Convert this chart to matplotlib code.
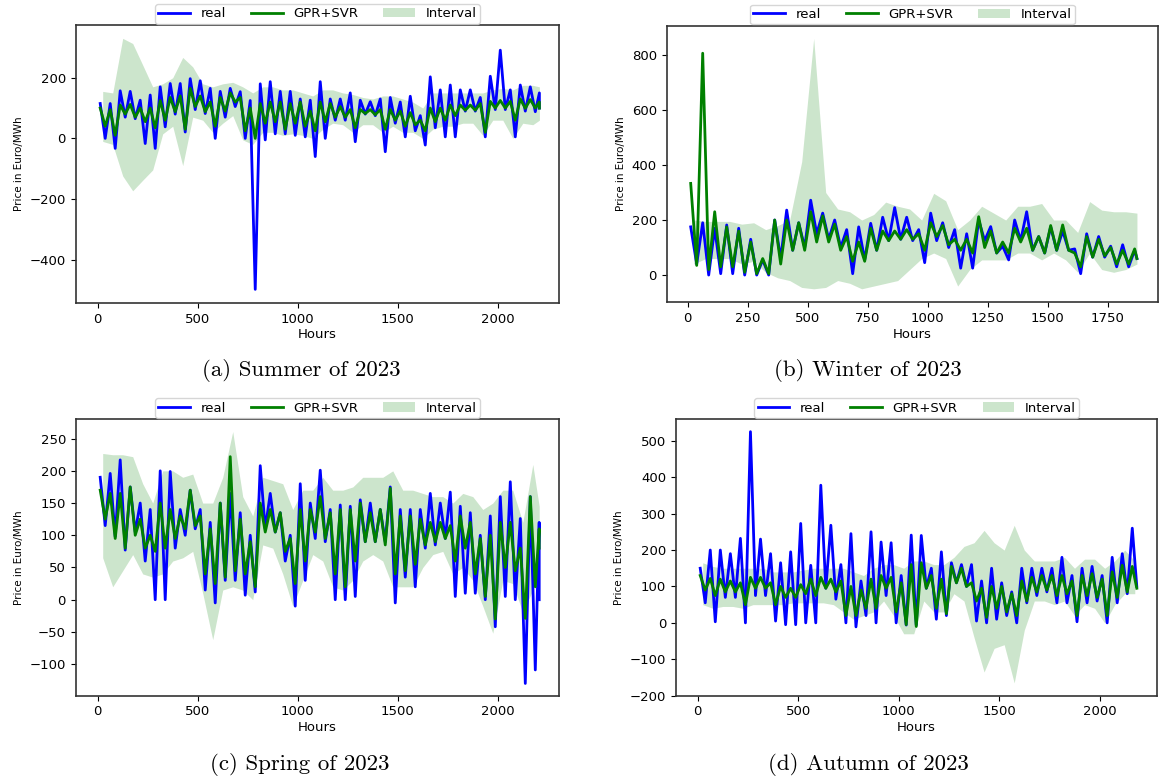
import matplotlib
matplotlib.use("Agg")
import matplotlib.pyplot as plt
import numpy as np

# values read per 50-hour block: upper / lower extremes of each series
summer_hours = 2208
summer_real_hi = [115, 115, 157, 155, 126, 143, 170, 181, 181, 197, 190, 165, 155, 165, 154, 125,
                  180, 187, 155, 155, 130, 126, 187, 130, 130, 150, 126, 121, 130, 135, 120, 139,
                  75, 203, 160, 176, 160, 160, 135, 205, 291, 160, 176, 170, 150]
summer_real_lo = [0, -33, 70, 65, -17, -33, 38, 80, 21, 95, 82, 0, 70, 105, 0, -498,
                  -5, 15, 15, 10, 5, -60, 0, 60, 60, -11, 80, 75, -44, 50, 5, 25,
                  -22, 35, 5, 5, 90, 90, 5, 95, 95, 5, 90, 88, 100]
summer_pred_hi = [100, 95, 110, 112, 100, 100, 125, 135, 140, 165, 140, 120, 135, 150, 135, 100,
                  115, 120, 120, 115, 120, 90, 120, 115, 105, 95, 95, 95, 95, 95, 90, 85,
                  60, 100, 100, 110, 110, 110, 115, 122, 125, 122, 130, 128, 120]
summer_pred_lo = [40, 10, 80, 70, 55, 35, 60, 88, 30, 105, 88, 40, 90, 120, 25, 0,
                  50, 55, 30, 50, 40, 25, 55, 70, 70, 35, 82, 78, 30, 60, 40, 45,
                  25, 55, 60, 75, 93, 93, 20, 100, 100, 60, 99, 100, 100]
summer_int_hi = [155, 150, 330, 313, 242, 170, 180, 200, 267, 236, 180, 170, 180, 185, 170, 150,
                 170, 170, 160, 160, 150, 140, 160, 160, 150, 145, 135, 130, 140, 140, 130, 120,
                 100, 150, 150, 150, 150, 150, 150, 160, 165, 160, 175, 175, 170]
summer_int_lo = [-10, -20, -124, -173, -138, -104, 15, 40, -90, 70, 60, 20, 50, 75, -5, -20,
                 20, 20, 10, 15, 10, 0, 30, 50, 45, 20, 45, 45, 20, 40, 20, 20,
                 0, 30, 40, 40, 50, 50, 10, 60, 60, 0, 50, 45, 60]

winter_hours = 1872
winter_real_hi = [175, 190, 170, 182, 170, 130, 55, 200, 236, 190, 272, 225, 200, 165, 175, 188,
                  210, 245, 210, 165, 225, 190, 165, 150, 200, 176, 105, 200, 230, 140, 175, 160,
                  95, 150, 140, 105, 110, 90]
winter_real_lo = [40, 0, 5, 5, 0, 0, 0, 60, 90, 100, 150, 130, 100, 5, 55, 90,
                  125, 130, 125, 45, 125, 100, 25, 25, 125, 80, 55, 125, 90, 80, 90, 90,
                  5, 65, 65, 30, 30, 60]
winter_pred_hi = [333, 806, 230, 175, 160, 120, 60, 200, 200, 190, 230, 215, 185, 140, 120, 170,
                  160, 160, 165, 150, 190, 180, 130, 130, 212, 160, 120, 170, 170, 140, 180, 182,
                  80, 140, 130, 100, 90, 95]
winter_pred_lo = [35, 20, 30, 30, 10, 5, 5, 40, 90, 90, 120, 120, 90, 50, 50, 90,
                  125, 130, 130, 90, 140, 110, 90, 80, 100, 80, 80, 120, 90, 80, 90, 90,
                  30, 65, 70, 40, 40, 60]
winter_int_hi = [200, 195, 195, 195, 185, 190, 165, 180, 200, 412, 860, 300, 240, 230, 200, 220,
                 265, 250, 240, 200, 297, 270, 165, 200, 250, 225, 200, 250, 250, 260, 200, 200,
                 155, 267, 236, 230, 230, 225]
winter_int_lo = [40, 60, 60, 60, 40, 50, 10, -10, -20, -45, -50, -45, -20, -30, -50, -40,
                 -30, -20, 20, 60, 80, 60, -40, 20, 55, 55, 55, 80, 80, 55, 80, 55,
                 10, 80, 20, 10, 20, 40]

spring_hours = 2207
spring_real_hi = [190, 196, 217, 175, 150, 140, 200, 199, 140, 170, 140, 120, 150, 165, 135, 100,
                  208, 165, 135, 100, 180, 150, 201, 140, 147, 145, 155, 150, 140, 175, 140, 140,
                  140, 165, 150, 167, 145, 135, 100, 130, 160, 183, 126, 160, 120]
spring_real_lo = [115, 98, 77, 105, 60, 0, 0, 80, 100, 110, 15, -5, 30, 30, 7, 12,
                  110, 105, 60, -10, 30, 95, 90, 0, 0, 5, 90, 90, 90, -5, 35, 20,
                  80, 85, 95, 5, 10, 10, 0, -42, 5, 0, -130, -109, 0]
spring_pred_hi = [170, 165, 165, 175, 125, 100, 150, 140, 130, 170, 130, 110, 150, 222, 125, 90,
                  150, 140, 135, 95, 140, 140, 160, 135, 140, 140, 150, 135, 140, 173, 130, 130,
                  125, 120, 120, 115, 130, 120, 95, 100, 120, 120, 80, 160, 110]
spring_pred_lo = [125, 95, 80, 100, 80, 75, 80, 95, 110, 115, 40, 25, 35, 45, 40, 20,
                  105, 105, 75, 25, 60, 105, 95, 40, 20, 60, 90, 90, 85, 40, 45, 55,
                  85, 90, 95, 60, 80, 40, 5, -30, 50, 45, -29, 20, 80]
spring_int_hi = [227, 225, 225, 222, 180, 150, 200, 200, 190, 195, 150, 150, 190, 261, 160, 130,
                 190, 185, 180, 140, 170, 170, 190, 170, 170, 175, 190, 190, 190, 200, 170, 170,
                 165, 160, 160, 150, 165, 160, 140, 150, 170, 170, 120, 210, 145]
spring_int_lo = [65, 20, 45, 70, 40, 35, 40, 60, 65, 75, 10, -62, 15, 20, 15, 0,
                 85, 80, 40, -10, 30, 70, 60, 20, 15, 30, 60, 70, 60, 20, 20, 20,
                 50, 70, 75, 40, 50, 30, -10, -52, 30, 25, -20, 15, 60]

autumn_hours = 2185
autumn_real_hi = [150, 200, 200, 190, 232, 525, 230, 190, 165, 195, 273, 158, 378, 268, 160, 245,
                  115, 250, 222, 220, 130, 241, 240, 150, 195, 165, 160, 160, 115, 150, 110, 85,
                  150, 150, 150, 150, 180, 130, 150, 155, 130, 180, 190, 260]
autumn_real_lo = [55, 3, 70, 70, 0, 75, 75, 5, -5, -5, 0, 0, 95, 65, 0, -11,
                  20, 0, 75, 0, -6, -6, 95, 10, 20, 110, 100, 5, 0, 10, 20, 0,
                  55, 75, 85, 55, 55, 3, 55, 60, 0, 55, 80, 100]
autumn_pred_hi = [130, 122, 120, 115, 110, 125, 125, 110, 100, 95, 105, 120, 125, 120, 115, 100,
                  90, 120, 130, 125, 110, 160, 165, 130, 120, 155, 150, 110, 95, 100, 100, 80,
                  115, 125, 130, 130, 130, 115, 130, 135, 120, 140, 158, 155]
autumn_pred_lo = [90, 75, 85, 85, 50, 95, 95, 50, 70, 70, 80, 75, 95, 85, 20, 20,
                  40, 40, 95, 30, -5, -10, 95, 40, 25, 110, 100, 60, 15, 40, 30, 20,
                  60, 85, 90, 75, 80, 20, 75, 70, 20, 70, 85, 95]
autumn_int_hi = [165, 155, 150, 150, 150, 150, 150, 140, 140, 140, 145, 150, 150, 150, 150, 140,
                 130, 150, 160, 160, 150, 170, 170, 160, 160, 180, 210, 220, 254, 220, 200, 268,
                 200, 170, 170, 170, 180, 150, 175, 175, 150, 170, 200, 170]
autumn_int_lo = [50, 40, 45, 45, 40, 50, 50, 50, 50, 55, 55, 55, 55, 50, 30, 10,
                 20, 30, 60, 20, -30, -30, 60, 30, 30, 80, 60, -40, -135, -70, -60, -165,
                 -20, 60, 60, 50, 60, 20, 50, 40, 0, 50, 80, 80]

captions = ["(a) Summer of 2023", "(b) Winter of 2023", "(c) Spring of 2023", "(d) Autumn of 2023"]

panels = [
    dict(hours=summer_hours, real=(summer_real_hi, summer_real_lo), pred=(summer_pred_hi, summer_pred_lo),
         band=(summer_int_hi, summer_int_lo), box=(75.7, 25, 559, 303), xlim=(-110, 2306), ylim=(-543, 374),
         xt=np.arange(0, 2001, 500), yt=np.arange(-400, 201, 200), cap=(301, 370)),
    dict(hours=winter_hours, real=(winter_real_hi, winter_real_lo), pred=(winter_pred_hi, winter_pred_lo),
         band=(winter_int_hi, winter_int_lo), box=(666.7, 25.7, 1158.3, 302.3), xlim=(-87.5, 1961), ylim=(-99, 906),
         xt=np.arange(0, 1751, 250), yt=np.arange(0, 801, 200), cap=(868, 370)),
    dict(hours=spring_hours, real=(spring_real_hi, spring_real_lo), pred=(spring_pred_hi, spring_pred_lo),
         band=(spring_int_hi, spring_int_lo), box=(75.7, 419.3, 559, 695.7), xlim=(-110, 2306), ylim=(-149, 280),
         xt=np.arange(0, 2001, 500), yt=np.arange(-100, 251, 50), cap=(300, 765)),
    dict(hours=autumn_hours, real=(autumn_real_hi, autumn_real_lo), pred=(autumn_pred_hi, autumn_pred_lo),
         band=(autumn_int_hi, autumn_int_lo), box=(676, 419.3, 1157.3, 695.7), xlim=(-108, 2287), ylim=(-200, 559),
         xt=np.arange(0, 2001, 500), yt=np.arange(-200, 501, 100), cap=(868, 765)),
]

W, H = 1163, 783
BLOCK = 50


def zigzag(hi, lo, hours):
    starts = np.arange(len(hi)) * BLOCK
    x = np.column_stack([starts + BLOCK * 0.25, starts + BLOCK * 0.75]).ravel()
    x = np.minimum(x, hours)
    y = np.column_stack([hi, lo]).ravel()
    return x, y


fig = plt.figure(figsize=(W / 100, H / 100), dpi=100)

for p, cap in zip(panels, captions):
    l, t, r, b = p["box"]
    ax = fig.add_axes([l / W, 1 - b / H, (r - l) / W, (b - t) / H])

    n = len(p["band"][0])
    xb = np.minimum(np.arange(n) * BLOCK + BLOCK / 2, p["hours"])
    xr, yr = zigzag(*p["real"], p["hours"])
    xp, yp = zigzag(*p["pred"], p["hours"])

    ax.plot(xr, yr, color="blue", lw=2, label="real")
    ax.plot(xp, yp, color="green", lw=2, label="GPR+SVR")
    ax.fill_between(xb, p["band"][1], p["band"][0], color="green", alpha=0.2, lw=0, label="Interval")

    ax.set_xlim(*p["xlim"])
    ax.set_ylim(*p["ylim"])
    ax.set_xticks(p["xt"])
    ax.set_yticks(p["yt"])
    ax.tick_params(labelsize=9.5)
    for s in ax.spines.values():
        s.set_linewidth(1.2)
        s.set_color("#333333")
    ax.set_xlabel("Hours", fontsize=9.5, labelpad=2)
    ax.set_ylabel("Price in Euro/MWh", fontsize=7.5)
    ax.legend(loc="lower center", bbox_to_anchor=(0.5, 1.005), ncol=3, fontsize=9.5,
              handlelength=2.4, columnspacing=1.9, borderpad=0.25, borderaxespad=0)

    fig.text(p["cap"][0] / W, 1 - p["cap"][1] / H, cap, family="cmr10", fontsize=16.5,
             ha="center", va="center")

fig.savefig("out.png", dpi=100)
